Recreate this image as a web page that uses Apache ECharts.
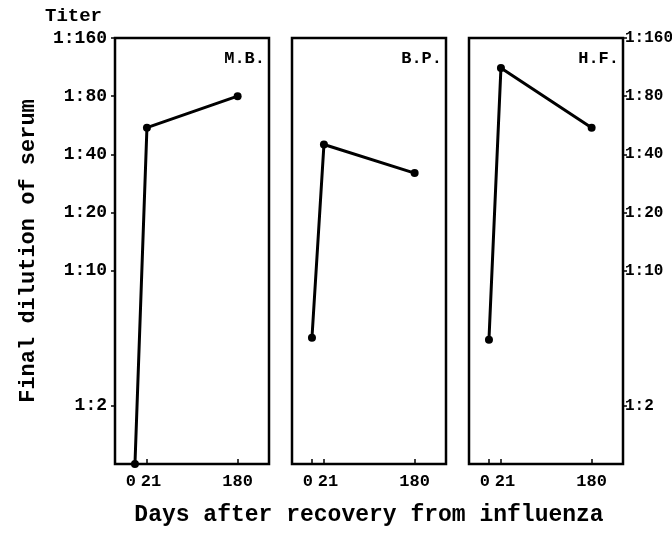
<!DOCTYPE html>
<html>
<head>
<meta charset="utf-8">
<script src="https://cdn.jsdelivr.net/npm/echarts@6/dist/echarts.min.js"></script>
<style>
  html, body { margin: 0; padding: 0; background: #fff; }
  #chart { width: 672px; height: 534px; }
</style>
</head>
<body>
<div id="chart"></div>
<script>
// days after recovery, one point per sample
const days = [0, 21, 180]
const subjects = ['M.B.', 'B.P.', 'H.F.']
// reciprocal of final serum dilution (1:x)
const titerMB = [1, 55, 80]
const titerBP = [4.5, 45, 32]
const titerHF = [4.4, 112, 55]
const yTicks = [2, 10, 20, 40, 80, 160]

const titers = [titerMB, titerBP, titerHF]
const FONT = 'Liberation Mono'
const lefts = [115, 292, 469]

const chart = echarts.init(document.getElementById('chart'))

const grids = lefts.map(l => ({
  left: l, top: 38, width: 154, bottom: 70,
  outerBoundsMode: 'none', containLabel: false,
  show: true, borderColor: '#000', borderWidth: 2.5, backgroundColor: 'transparent'
}))

const xAxes = lefts.map((l, i) => ({
  type: 'value', gridIndex: i, min: -35, max: 235,
  splitLine: { show: false },
  axisLine: { show: false, onZero: false },
  axisTick: { show: true, inside: true, length: 5, customValues: days, lineStyle: { color: '#000', width: 1.5 } },
  axisLabel: {
    show: true, customValues: days, margin: 9,
    color: '#000', fontFamily: FONT, fontWeight: 'bold', fontSize: 17,
    formatter: v => v === 0 ? '{z|0}' : v === 21 ? '{t|21}' : '180',
    rich: {
      z: { padding: [0, 8, 0, 0], fontFamily: FONT, fontWeight: 'bold', fontSize: 17, color: '#000' },
      t: { padding: [0, 0, 0, 8], fontFamily: FONT, fontWeight: 'bold', fontSize: 17, color: '#000' }
    }
  },
  name: i === 1 ? 'Days after recovery from influenza' : '',
  nameLocation: 'middle', nameGap: 40,
  nameTextStyle: { color: '#000', fontFamily: FONT, fontWeight: 'bold', fontSize: 23 }
}))

const yAxes = lefts.map((l, i) => ({
  type: 'log', logBase: 2, gridIndex: i, min: 1, max: 160,
  position: i === 2 ? 'right' : 'left',
  splitLine: { show: false },
  axisLine: { show: false, onZero: false },
  axisTick: { show: i !== 1, length: 4, customValues: yTicks, lineStyle: { color: '#000', width: 1.5 } },
  axisLabel: {
    show: i !== 1, customValues: yTicks, margin: i === 2 ? 2 : 8,
    color: '#000', fontFamily: FONT, fontWeight: 'bold', fontSize: i === 2 ? 16 : 18,
    formatter: v => '1:' + Math.round(v)
  },
  name: i === 0 ? 'Final dilution of serum' : '',
  nameLocation: 'middle', nameGap: 76, nameRotate: 90,
  nameTextStyle: { color: '#000', fontFamily: FONT, fontWeight: 'bold', fontSize: 22 }
}))

const series = titers.map((t, i) => ({
  type: 'line', xAxisIndex: i, yAxisIndex: i,
  data: days.map((d, k) => [d, t[k]]),
  symbol: 'circle', symbolSize: 8,
  lineStyle: { color: '#000', width: 3 },
  itemStyle: { color: '#000' },
  silent: true, animation: false
}))

const panelLabels = subjects.map((s, i) => ({
  type: 'text', right: 672 - (lefts[i] + 150), top: 50,
  style: { text: s, fill: '#000', font: 'bold 17px "' + FONT + '"' }
}))

chart.setOption({
  backgroundColor: '#fff',
  animation: false,
  title: {
    text: 'Titer', left: 40, top: 2,
    textStyle: { color: '#000', fontFamily: FONT, fontWeight: 'bold', fontSize: 19 }
  },
  grid: grids,
  xAxis: xAxes,
  yAxis: yAxes,
  series: series,
  graphic: panelLabels
})
</script>
</body>
</html>
